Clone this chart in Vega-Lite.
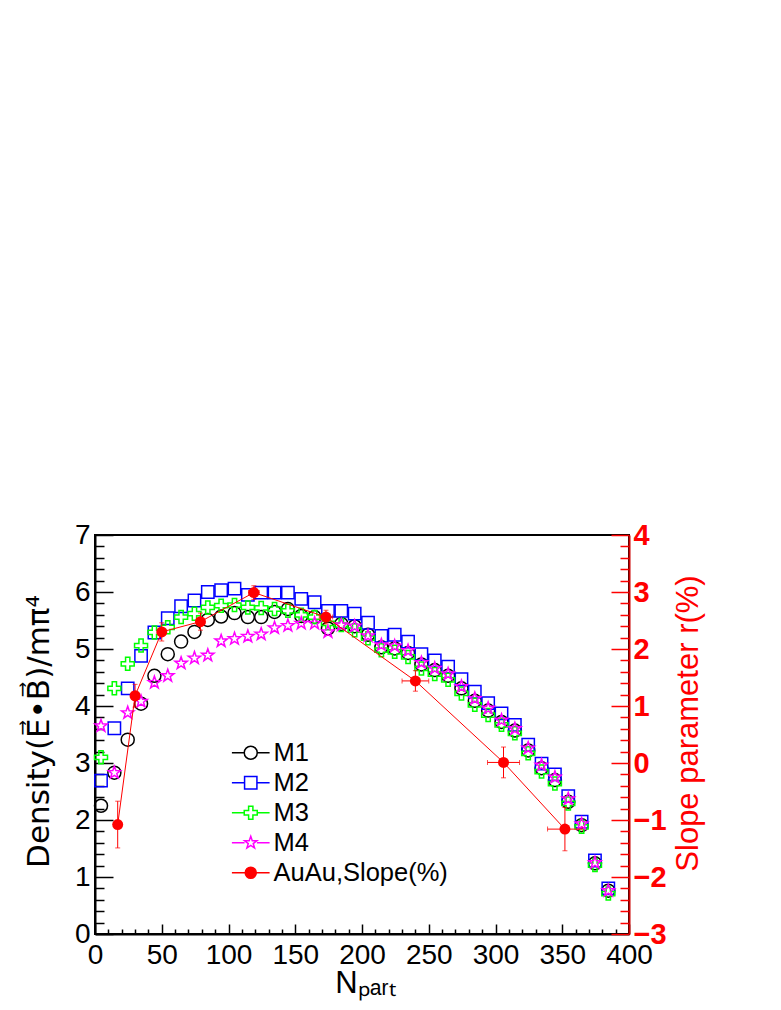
{
  "$schema": "https://vega.github.io/schema/vega-lite/v6.json",
  "width": 534,
  "height": 399,
  "autosize": {"type": "none"},
  "padding": {"left": 95, "top": 535, "right": 152, "bottom": 76},
  "background": "white",
  "datasets": {
    "models": [
      {"model": "M1", "Npart": 4.5, "density": 2.25}, {"model": "M1", "Npart": 14.5, "density": 2.83}, {"model": "M1", "Npart": 24.5, "density": 3.41}, {"model": "M1", "Npart": 34.5, "density": 4.04}, {"model": "M1", "Npart": 44.5, "density": 4.53}, {"model": "M1", "Npart": 54.5, "density": 4.91}, {"model": "M1", "Npart": 64.5, "density": 5.13}, {"model": "M1", "Npart": 74.5, "density": 5.30}, {"model": "M1", "Npart": 84.5, "density": 5.51}, {"model": "M1", "Npart": 94.5, "density": 5.57}, {"model": "M1", "Npart": 104.5, "density": 5.63}, {"model": "M1", "Npart": 114.5, "density": 5.56}, {"model": "M1", "Npart": 124.5, "density": 5.56}, {"model": "M1", "Npart": 134.5, "density": 5.65}, {"model": "M1", "Npart": 144.5, "density": 5.70}, {"model": "M1", "Npart": 154.5, "density": 5.58}, {"model": "M1", "Npart": 164.5, "density": 5.56}, {"model": "M1", "Npart": 174.5, "density": 5.36}, {"model": "M1", "Npart": 184.5, "density": 5.44}, {"model": "M1", "Npart": 194.5, "density": 5.40}, {"model": "M1", "Npart": 204.5, "density": 5.25}, {"model": "M1", "Npart": 214.5, "density": 5.03}, {"model": "M1", "Npart": 224.5, "density": 5.01}, {"model": "M1", "Npart": 234.5, "density": 4.93}, {"model": "M1", "Npart": 244.5, "density": 4.73}, {"model": "M1", "Npart": 254.5, "density": 4.63}, {"model": "M1", "Npart": 264.5, "density": 4.53}, {"model": "M1", "Npart": 274.5, "density": 4.31}, {"model": "M1", "Npart": 284.5, "density": 4.09}, {"model": "M1", "Npart": 294.5, "density": 3.92}, {"model": "M1", "Npart": 304.5, "density": 3.72}, {"model": "M1", "Npart": 314.5, "density": 3.57}, {"model": "M1", "Npart": 324.5, "density": 3.22}, {"model": "M1", "Npart": 334.5, "density": 2.91}, {"model": "M1", "Npart": 344.5, "density": 2.70}, {"model": "M1", "Npart": 354.5, "density": 2.32}, {"model": "M1", "Npart": 364.5, "density": 1.91}, {"model": "M1", "Npart": 374.5, "density": 1.24}, {"model": "M1", "Npart": 384.5, "density": 0.76},
      {"model": "M2", "Npart": 4.5, "density": 2.69}, {"model": "M2", "Npart": 14.5, "density": 3.61}, {"model": "M2", "Npart": 24.5, "density": 4.31}, {"model": "M2", "Npart": 34.5, "density": 4.88}, {"model": "M2", "Npart": 44.5, "density": 5.29}, {"model": "M2", "Npart": 54.5, "density": 5.54}, {"model": "M2", "Npart": 64.5, "density": 5.75}, {"model": "M2", "Npart": 74.5, "density": 5.85}, {"model": "M2", "Npart": 84.5, "density": 6.00}, {"model": "M2", "Npart": 94.5, "density": 6.03}, {"model": "M2", "Npart": 104.5, "density": 6.06}, {"model": "M2", "Npart": 114.5, "density": 5.95}, {"model": "M2", "Npart": 124.5, "density": 5.99}, {"model": "M2", "Npart": 134.5, "density": 5.99}, {"model": "M2", "Npart": 144.5, "density": 5.99}, {"model": "M2", "Npart": 154.5, "density": 5.88}, {"model": "M2", "Npart": 164.5, "density": 5.82}, {"model": "M2", "Npart": 174.5, "density": 5.67}, {"model": "M2", "Npart": 184.5, "density": 5.67}, {"model": "M2", "Npart": 194.5, "density": 5.62}, {"model": "M2", "Npart": 204.5, "density": 5.46}, {"model": "M2", "Npart": 214.5, "density": 5.23}, {"model": "M2", "Npart": 224.5, "density": 5.25}, {"model": "M2", "Npart": 234.5, "density": 5.13}, {"model": "M2", "Npart": 244.5, "density": 4.91}, {"model": "M2", "Npart": 254.5, "density": 4.80}, {"model": "M2", "Npart": 264.5, "density": 4.69}, {"model": "M2", "Npart": 274.5, "density": 4.47}, {"model": "M2", "Npart": 284.5, "density": 4.25}, {"model": "M2", "Npart": 294.5, "density": 4.05}, {"model": "M2", "Npart": 304.5, "density": 3.87}, {"model": "M2", "Npart": 314.5, "density": 3.67}, {"model": "M2", "Npart": 324.5, "density": 3.32}, {"model": "M2", "Npart": 334.5, "density": 2.99}, {"model": "M2", "Npart": 344.5, "density": 2.80}, {"model": "M2", "Npart": 354.5, "density": 2.42}, {"model": "M2", "Npart": 364.5, "density": 1.97}, {"model": "M2", "Npart": 374.5, "density": 1.29}, {"model": "M2", "Npart": 384.5, "density": 0.80},
      {"model": "M3", "Npart": 4.5, "density": 3.10}, {"model": "M3", "Npart": 14.5, "density": 4.31}, {"model": "M3", "Npart": 24.5, "density": 4.74}, {"model": "M3", "Npart": 34.5, "density": 5.06}, {"model": "M3", "Npart": 44.5, "density": 5.29}, {"model": "M3", "Npart": 54.5, "density": 5.38}, {"model": "M3", "Npart": 64.5, "density": 5.56}, {"model": "M3", "Npart": 74.5, "density": 5.62}, {"model": "M3", "Npart": 84.5, "density": 5.73}, {"model": "M3", "Npart": 94.5, "density": 5.76}, {"model": "M3", "Npart": 104.5, "density": 5.77}, {"model": "M3", "Npart": 114.5, "density": 5.73}, {"model": "M3", "Npart": 124.5, "density": 5.72}, {"model": "M3", "Npart": 134.5, "density": 5.70}, {"model": "M3", "Npart": 144.5, "density": 5.67}, {"model": "M3", "Npart": 154.5, "density": 5.60}, {"model": "M3", "Npart": 164.5, "density": 5.56}, {"model": "M3", "Npart": 174.5, "density": 5.45}, {"model": "M3", "Npart": 184.5, "density": 5.42}, {"model": "M3", "Npart": 194.5, "density": 5.33}, {"model": "M3", "Npart": 204.5, "density": 5.19}, {"model": "M3", "Npart": 214.5, "density": 4.98}, {"model": "M3", "Npart": 224.5, "density": 4.95}, {"model": "M3", "Npart": 234.5, "density": 4.86}, {"model": "M3", "Npart": 244.5, "density": 4.66}, {"model": "M3", "Npart": 254.5, "density": 4.56}, {"model": "M3", "Npart": 264.5, "density": 4.46}, {"model": "M3", "Npart": 274.5, "density": 4.22}, {"model": "M3", "Npart": 284.5, "density": 4.02}, {"model": "M3", "Npart": 294.5, "density": 3.84}, {"model": "M3", "Npart": 304.5, "density": 3.67}, {"model": "M3", "Npart": 314.5, "density": 3.52}, {"model": "M3", "Npart": 324.5, "density": 3.17}, {"model": "M3", "Npart": 334.5, "density": 2.85}, {"model": "M3", "Npart": 344.5, "density": 2.64}, {"model": "M3", "Npart": 354.5, "density": 2.29}, {"model": "M3", "Npart": 364.5, "density": 1.88}, {"model": "M3", "Npart": 374.5, "density": 1.21}, {"model": "M3", "Npart": 384.5, "density": 0.71},
      {"model": "M4", "Npart": 4.5, "density": 3.65}, {"model": "M4", "Npart": 14.5, "density": 2.83}, {"model": "M4", "Npart": 24.5, "density": 3.88}, {"model": "M4", "Npart": 34.5, "density": 4.08}, {"model": "M4", "Npart": 44.5, "density": 4.41}, {"model": "M4", "Npart": 54.5, "density": 4.53}, {"model": "M4", "Npart": 64.5, "density": 4.75}, {"model": "M4", "Npart": 74.5, "density": 4.84}, {"model": "M4", "Npart": 84.5, "density": 4.89}, {"model": "M4", "Npart": 94.5, "density": 5.14}, {"model": "M4", "Npart": 104.5, "density": 5.18}, {"model": "M4", "Npart": 114.5, "density": 5.22}, {"model": "M4", "Npart": 124.5, "density": 5.26}, {"model": "M4", "Npart": 134.5, "density": 5.37}, {"model": "M4", "Npart": 144.5, "density": 5.41}, {"model": "M4", "Npart": 154.5, "density": 5.45}, {"model": "M4", "Npart": 164.5, "density": 5.45}, {"model": "M4", "Npart": 174.5, "density": 5.30}, {"model": "M4", "Npart": 184.5, "density": 5.42}, {"model": "M4", "Npart": 194.5, "density": 5.40}, {"model": "M4", "Npart": 204.5, "density": 5.23}, {"model": "M4", "Npart": 214.5, "density": 5.07}, {"model": "M4", "Npart": 224.5, "density": 5.05}, {"model": "M4", "Npart": 234.5, "density": 4.97}, {"model": "M4", "Npart": 244.5, "density": 4.76}, {"model": "M4", "Npart": 254.5, "density": 4.66}, {"model": "M4", "Npart": 264.5, "density": 4.56}, {"model": "M4", "Npart": 274.5, "density": 4.34}, {"model": "M4", "Npart": 284.5, "density": 4.13}, {"model": "M4", "Npart": 294.5, "density": 3.96}, {"model": "M4", "Npart": 304.5, "density": 3.75}, {"model": "M4", "Npart": 314.5, "density": 3.60}, {"model": "M4", "Npart": 324.5, "density": 3.26}, {"model": "M4", "Npart": 334.5, "density": 2.96}, {"model": "M4", "Npart": 344.5, "density": 2.75}, {"model": "M4", "Npart": 354.5, "density": 2.37}, {"model": "M4", "Npart": 364.5, "density": 1.93}, {"model": "M4", "Npart": 374.5, "density": 1.25}, {"model": "M4", "Npart": 384.5, "density": 0.76}
    ],
    "auau": [
      {"series": "AuAu,Slope(%)", "Npart": 17, "r": -1.08, "err_r": 0.41, "err_n": 1},
      {"series": "AuAu,Slope(%)", "Npart": 30, "r": 1.18, "err_r": 0.2, "err_n": 1.5},
      {"series": "AuAu,Slope(%)", "Npart": 50, "r": 2.30, "err_r": 0.16, "err_n": 2},
      {"series": "AuAu,Slope(%)", "Npart": 79, "r": 2.48, "err_r": 0.15, "err_n": 3},
      {"series": "AuAu,Slope(%)", "Npart": 119, "r": 2.99, "err_r": 0.12, "err_n": 4},
      {"series": "AuAu,Slope(%)", "Npart": 173, "r": 2.56, "err_r": 0.12, "err_n": 5},
      {"series": "AuAu,Slope(%)", "Npart": 240, "r": 1.44, "err_r": 0.18, "err_n": 10},
      {"series": "AuAu,Slope(%)", "Npart": 306, "r": 0.01, "err_r": 0.27, "err_n": 12},
      {"series": "AuAu,Slope(%)", "Npart": 352, "r": -1.16, "err_r": 0.38, "err_n": 13}
    ]
  },
  "layer": [
    {
      "encoding": {
        "x": {
          "field": "Npart", "type": "quantitative",
          "scale": {"domain": [0, 400], "nice": false, "zero": false},
          "axis": {
            "orient": "bottom",
            "values": [0,10,20,30,40,50,60,70,80,90,100,110,120,130,140,150,160,170,180,190,200,210,220,230,240,250,260,270,280,290,300,310,320,330,340,350,360,370,380,390,400],
            "labelExpr": "datum.value % 50 === 0 ? format(datum.value, 'd') : ''",
            "tickSize": {"condition": {"test": "datum.value % 50 === 0", "value": -10}, "value": -5},
            "labelOverlap": false, "labelFlush": false,
            "labelPadding": 17, "labelFontSize": 28,
            "domainColor": "black", "domainWidth": 2,
            "tickColor": "black", "tickWidth": 1.5,
            "labelColor": "black",
            "title": "Nₚₐᵣₜ", "titleFontSize": 31, "titleColor": "black",
            "titleX": 270, "titleY": 58, "titleAlign": "center", "titleBaseline": "alphabetic"
          }
        },
        "y": {
          "field": "density", "type": "quantitative",
          "scale": {"domain": [0, 7], "nice": false, "zero": false},
          "axis": {
            "orient": "left",
            "values": [0,0.2,0.4,0.6,0.8,1,1.2,1.4,1.6,1.8,2,2.2,2.4,2.6,2.8,3,3.2,3.4,3.6,3.8,4,4.2,4.4,4.6,4.8,5,5.2,5.4,5.6,5.8,6,6.2,6.4,6.6,6.8,7],
            "labelExpr": "abs(datum.value - round(datum.value)) < 0.001 ? format(round(datum.value), 'd') : ''",
            "tickSize": {"condition": {"test": "abs(datum.value - round(datum.value)) < 0.001", "value": -18}, "value": -9},
            "labelOverlap": false,
            "labelPadding": 23, "labelFontSize": 28,
            "domainColor": "black", "domainWidth": 2,
            "tickColor": "black", "tickWidth": 1.5,
            "labelColor": "black",
            "title": "Density(E⃗•B⃗)/mπ⁴", "titleFont": "DejaVu Sans", "titleFontSize": 31, "titleColor": "black",
            "titleAngle": 270, "titleX": -47, "titleY": 196, "titleAlign": "center", "titleBaseline": "alphabetic"
          }
        }
      },
      "layer": [
        {
          "data": {"name": "models"},
          "mark": {"type": "point", "filled": false, "strokeWidth": 1.5, "size": 169, "opacity": 1},
          "encoding": {
            "shape": {
              "field": "model", "type": "nominal",
              "scale": {
                "domain": ["M1", "M2", "M3", "M4"],
                "range": [
                  "M-1,0A1,1,0,1,0,1,0A1,1,0,1,0,-1,0Z",
                  "M-0.95,-0.95L0.95,-0.95L0.95,0.95L-0.95,0.95Z",
                  "M-0.33,-1L0.33,-1L0.33,-0.33L1,-0.33L1,0.33L0.33,0.33L0.33,1L-0.33,1L-0.33,0.33L-1,0.33L-1,-0.33L-0.33,-0.33Z",
                  "M0,-1L0.235,-0.324L0.951,-0.309L0.38,0.124L0.588,0.809L0,0.4L-0.588,0.809L-0.38,0.124L-0.951,-0.309L-0.235,-0.324Z"
                ]
              },
              "legend": null
            },
            "color": {
              "field": "model", "type": "nominal",
              "scale": {"domain": ["M1", "M2", "M3", "M4"], "range": ["#000000", "#0000ff", "#00ff00", "#ff00ff"]},
              "legend": null
            }
          }
        },
        {
          "data": {"values": [{}]},
          "mark": {"type": "text", "font": "Liberation Sans", "fontSize": 24.5, "align": "center", "baseline": "alphabetic", "color": "black"},
          "encoding": {
            "x": {
              "datum": 282, "type": "quantitative",
              "scale": {"domain": [0, 400], "nice": false, "zero": false},
              "axis": {
                "orient": "bottom",
                "values": [0,10,20,30,40,50,60,70,80,90,100,110,120,130,140,150,160,170,180,190,200,210,220,230,240,250,260,270,280,290,300,310,320,330,340,350,360,370,380,390,400],
                "labelExpr": "datum.value % 50 === 0 ? format(datum.value, 'd') : ''",
                "tickSize": {"condition": {"test": "datum.value % 50 === 0", "value": -10}, "value": -5},
                "labelOverlap": false, "labelFlush": false,
                "labelPadding": 17, "labelFontSize": 28,
                "domainColor": "black", "domainWidth": 2,
                "tickColor": "black", "tickWidth": 1.5,
                "labelColor": "black",
                "title": "Nₚₐᵣₜ", "titleFontSize": 31, "titleColor": "black",
                "titleX": 270, "titleY": 58, "titleAlign": "center", "titleBaseline": "alphabetic"
              }
            },
            "y": {
              "datum": 6.4, "type": "quantitative",
              "scale": {"domain": [0, 7], "nice": false, "zero": false},
              "axis": {
                "orient": "left",
                "values": [0,0.2,0.4,0.6,0.8,1,1.2,1.4,1.6,1.8,2,2.2,2.4,2.6,2.8,3,3.2,3.4,3.6,3.8,4,4.2,4.4,4.6,4.8,5,5.2,5.4,5.6,5.8,6,6.2,6.4,6.6,6.8,7],
                "labelExpr": "abs(datum.value - round(datum.value)) < 0.001 ? format(round(datum.value), 'd') : ''",
                "tickSize": {"condition": {"test": "abs(datum.value - round(datum.value)) < 0.001", "value": -18}, "value": -9},
                "labelOverlap": false,
                "labelPadding": 23, "labelFontSize": 28,
                "domainColor": "black", "domainWidth": 2,
                "tickColor": "black", "tickWidth": 1.5,
                "labelColor": "black",
                "title": "Density(E⃗•B⃗)/mπ⁴", "titleFont": "DejaVu Sans", "titleFontSize": 31, "titleColor": "black",
                "titleAngle": 270, "titleX": -47, "titleY": 196, "titleAlign": "center", "titleBaseline": "alphabetic"
              }
            },
            "text": {"value": "Au+Au,√s=200GeV"}
          }
        }
      ]
    },
    {
      "data": {"name": "auau"},
      "encoding": {
        "x": {
          "field": "Npart", "type": "quantitative",
          "scale": {"domain": [0, 400], "nice": false, "zero": false},
          "axis": {
            "orient": "bottom",
            "values": [0,10,20,30,40,50,60,70,80,90,100,110,120,130,140,150,160,170,180,190,200,210,220,230,240,250,260,270,280,290,300,310,320,330,340,350,360,370,380,390,400],
            "labelExpr": "datum.value % 50 === 0 ? format(datum.value, 'd') : ''",
            "tickSize": {"condition": {"test": "datum.value % 50 === 0", "value": -10}, "value": -5},
            "labelOverlap": false, "labelFlush": false,
            "labelPadding": 17, "labelFontSize": 28,
            "domainColor": "black", "domainWidth": 2,
            "tickColor": "black", "tickWidth": 1.5,
            "labelColor": "black",
            "title": "Nₚₐᵣₜ", "titleFontSize": 31, "titleColor": "black",
            "titleX": 270, "titleY": 58, "titleAlign": "center", "titleBaseline": "alphabetic"
          }
        },
        "y": {
          "field": "r", "type": "quantitative",
          "scale": {"domain": [-3, 4], "nice": false, "zero": false},
          "axis": {
            "orient": "right",
            "values": [-3,-2.8,-2.6,-2.4,-2.2,-2,-1.8,-1.6,-1.4,-1.2,-1,-0.8,-0.6,-0.4,-0.2,0,0.2,0.4,0.6,0.8,1,1.2,1.4,1.6,1.8,2,2.2,2.4,2.6,2.8,3,3.2,3.4,3.6,3.8,4],
            "labelExpr": "abs(datum.value - round(datum.value)) < 0.001 ? format(round(datum.value), 'd') : ''",
            "tickSize": {"condition": {"test": "abs(datum.value - round(datum.value)) < 0.001", "value": -18}, "value": -9},
            "labelOverlap": false,
            "labelPadding": 22, "labelFontSize": 29, "labelFontWeight": "bold",
            "labelAlign": "left", "labelColor": "red",
            "domainColor": "#cc0000", "domainWidth": 2,
            "tickColor": "red", "tickWidth": 1.5,
            "title": "Slope parameter r(%)", "titleFontSize": 31, "titleColor": "red",
            "titleAngle": 270, "titleX": 68, "titleY": 188, "titleAlign": "center", "titleBaseline": "alphabetic"
          }
        }
      },
      "layer": [
        {"mark": {"type": "line", "color": "red", "strokeWidth": 1}},
        {
          "mark": {"type": "errorbar", "ticks": true, "color": "red", "thickness": 1, "size": 5},
          "encoding": {"yError": {"field": "err_r"}}
        },
        {
          "mark": {"type": "errorbar", "ticks": true, "color": "red", "thickness": 1, "size": 5},
          "encoding": {"xError": {"field": "err_n"}}
        },
        {"mark": {"type": "point", "filled": true, "shape": "circle", "size": 121, "color": "red", "opacity": 1}}
      ]
    },
    {
      "data": {"name": "auau"},
      "transform": [{"filter": "false"}],
      "mark": {"type": "point", "opacity": 1},
      "encoding": {
        "shape": {
          "field": "series", "type": "nominal",
          "scale": {
            "domain": ["M1", "M2", "M3", "M4", "AuAu,Slope(%)"],
            "range": [
              "M-2.9,0L-1,0M1,0L2.9,0M-1,0A1,1,0,1,0,1,0A1,1,0,1,0,-1,0Z",
              "M-2.9,0L-0.95,0M0.95,0L2.9,0M-0.95,-0.95L0.95,-0.95L0.95,0.95L-0.95,0.95Z",
              "M-2.9,0L-1,0M1,0L2.9,0M-0.33,-1L0.33,-1L0.33,-0.33L1,-0.33L1,0.33L0.33,0.33L0.33,1L-0.33,1L-0.33,0.33L-1,0.33L-1,-0.33L-0.33,-0.33Z",
              "M-2.9,0L-0.95,0M0.95,0L2.9,0M0,-1L0.235,-0.324L0.951,-0.309L0.38,0.124L0.588,0.809L0,0.4L-0.588,0.809L-0.38,0.124L-0.951,-0.309L-0.235,-0.324Z",
              "M-2.9,0L-0.85,0M0.85,0L2.9,0M-0.85,0A0.85,0.85,0,1,0,0.85,0A0.85,0.85,0,1,0,-0.85,0Z"
            ]
          },
          "legend": {"orient": "none", "legendX": 143, "legendY": 205, "title": null, "labelFontSize": 25.5, "labelFont": "Liberation Sans", "labelColor": "black", "labelLimit": 0, "symbolSize": 169, "symbolStrokeWidth": 1.5, "rowPadding": 3, "labelOffset": 10, "padding": 0}
        },
        "stroke": {
          "field": "series", "type": "nominal",
          "scale": {"domain": ["M1", "M2", "M3", "M4", "AuAu,Slope(%)"], "range": ["#000000", "#0000ff", "#00ff00", "#ff00ff", "#ff0000"]},
          "legend": {"orient": "none", "legendX": 143, "legendY": 205, "title": null, "labelFontSize": 25.5, "labelFont": "Liberation Sans", "labelColor": "black", "labelLimit": 0, "symbolSize": 169, "symbolStrokeWidth": 1.5, "rowPadding": 3, "labelOffset": 10, "padding": 0}
        },
        "fill": {
          "field": "series", "type": "nominal",
          "scale": {"domain": ["M1", "M2", "M3", "M4", "AuAu,Slope(%)"], "range": ["transparent", "transparent", "transparent", "transparent", "#ff0000"]},
          "legend": {"orient": "none", "legendX": 143, "legendY": 205, "title": null, "labelFontSize": 25.5, "labelFont": "Liberation Sans", "labelColor": "black", "labelLimit": 0, "symbolSize": 169, "symbolStrokeWidth": 1.5, "rowPadding": 3, "labelOffset": 10, "padding": 0}
        }
      }
    }
  ],
  "resolve": {
    "scale": {"y": "independent", "shape": "independent", "color": "independent", "fill": "independent", "stroke": "independent"}
  },
  "config": {
    "font": "Liberation Sans",
    "view": {"stroke": "black", "strokeWidth": 2},
    "axis": {
      "grid": false,
      "labelFont": "Liberation Sans",
      "titleFont": "Liberation Sans",
      "titleFontWeight": "normal",
      "labelOverlap": false,
      "labelFlush": false,
      "labelBound": false
    }
  }
}
